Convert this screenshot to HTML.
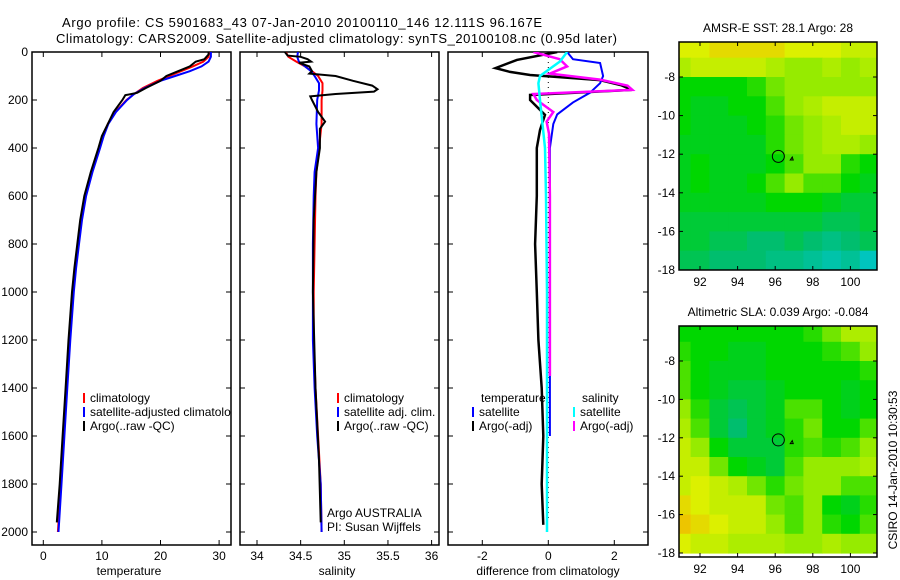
<!DOCTYPE html>
<html><head><meta charset="utf-8"><style>
html,body{margin:0;padding:0;background:#fff;}
svg{display:block;font-family:"Liberation Sans",sans-serif;}
text{font-size:12px;fill:#000;}
</style></head><body>
<svg id="fig" width="900" height="580" xmlns="http://www.w3.org/2000/svg">
<defs>
<clipPath id="c1"><rect x="32" y="52" width="199" height="493"/></clipPath>
<clipPath id="c2"><rect x="240" y="52" width="199" height="493"/></clipPath>
<clipPath id="c3"><rect x="448" y="52" width="200" height="493"/></clipPath>
<clipPath id="cm1"><rect x="679" y="42" width="198" height="228"/></clipPath>
<clipPath id="cm2"><rect x="679" y="326" width="198" height="231"/></clipPath>
</defs>
<text x="62" y="27" textLength="480" style="font-size:13px">Argo profile: CS 5901683_43 07-Jan-2010 20100110_146 12.111S 96.167E</text>
<text x="56" y="43" textLength="561" style="font-size:13px">Climatology: CARS2009. Satellite-adjusted climatology: synTS_20100108.nc (0.95d later)</text>
<g id="g1"></g>
<g id="g2"></g>
<g id="g3"></g>
<g id="gm1"></g>
<g id="gm2"></g>
<text transform="translate(897,470) rotate(-90)" text-anchor="middle">CSIRO 14-Jan-2010 10:30:53</text>
</svg>
<script>
// ---- data ----
const tClimDepth=[0,20,40,60,80,100,120,150,175,200,250,300,350,400,500,600,700,800,900,1000,1200,1400,1600,1800,2000];
const tClim=[28.3,28.2,27.3,25.5,23.5,21.5,19.5,17,15.5,14.2,12.3,11,10.2,9.6,8.3,7.2,6.5,6.0,5.5,5.1,4.5,4.0,3.5,3.0,2.5];
const tSat=[28.6,28.6,28.2,27,25,22.5,20,17.3,15.5,14.3,12.4,11.1,10.3,9.7,8.4,7.3,6.6,6.1,5.6,5.2,4.6,4.1,3.6,3.1,2.6];
const tArgoDepth=[0,10,30,40,60,80,100,120,150,170,180,200,250,300,350,400,500,600,700,800,900,1000,1200,1400,1600,1800,1960];
const tArgo=[28.2,28.2,27.5,26,25,23,21,20,17.5,16,14,13.5,12,11,10,9.4,8.1,7.0,6.3,5.8,5.3,4.9,4.3,3.8,3.3,2.8,2.3];
const sClimDepth=[0,20,40,60,80,100,130,160,200,300,400,500,600,800,1000,1200,1400,1600,1800,2000];
const sClim=[34.33,34.36,34.45,34.55,34.63,34.70,34.75,34.75,34.74,34.74,34.71,34.68,34.67,34.66,34.65,34.65,34.67,34.70,34.73,34.74];
const sSat=[34.47,34.46,34.48,34.55,34.62,34.66,34.71,34.71,34.69,34.68,34.70,34.66,34.65,34.64,34.64,34.64,34.66,34.69,34.73,34.74];
const sArgoDepth=[0,15,20,30,40,45,60,80,90,100,120,140,155,165,175,185,200,250,290,320,400,500,700,1000,1400,1700,1960];
const sArgo=[34.32,34.35,34.5,34.58,34.62,34.48,34.6,34.63,34.6,34.9,35.1,35.32,35.38,35.34,34.9,34.61,34.63,34.7,34.78,34.72,34.72,34.68,34.65,34.64,34.67,34.71,34.73];
const dTArgoDepth=[0,33,67,83,96,117,138,158,179,200,262,325,400,600,800,1000,1200,1400,1600,1800,1970];
const dTArgo=[0.27,-0.95,-1.6,-1.16,-0.55,1.57,2.2,2.53,-0.55,-0.55,-0.1,-0.25,-0.35,-0.35,-0.4,-0.35,-0.3,-0.2,-0.15,-0.2,-0.15];
const dTSatDepth=[0,30,46,100,130,170,210,260,300,400,800,1200,1600];
const dTSat=[0.57,0.75,1.57,1.66,1.57,1.26,0.75,0.27,0.15,0.05,0.05,0.05,0.05];
const dSArgoDepth=[0,30,60,90,115,140,158,175,200,250,290,340,600,1000,1350];
const dSArgo=[-0.45,0.35,0.57,0.05,1.57,2.4,2.55,-0.45,-0.35,0.15,-0.05,0.02,0.05,0.05,0.05];
const dSSatDepth=[0,40,70,100,130,200,400,600,1000,1400,1800,2000];
const dSSat=[0.57,0.35,0.05,-0.25,-0.3,-0.25,-0.1,-0.07,-0.04,-0.04,-0.04,-0.04];
const depthTicks=[0,200,400,600,800,1000,1200,1400,1600,1800,2000];
const tTicks=[0,10,20,30];
const sTicks=[34,34.5,35,35.5,36];
const sTickLabels=["34","34.5","35","35.5","36"];
const dTicks=[-2,0,2];
const mapLons=[91,92,93,94,95,96,97,98,99,100,101];
const mapLats=[-6.5,-7.5,-8.5,-9.5,-10.5,-11.5,-12.5,-13.5,-14.5,-15.5,-16.5,-17.5];
const lonTicks=[92,94,96,98,100];
const latTicks=[-8,-10,-12,-14,-16,-18];
const sstGrid=[
[0.85,0.85,0.9,0.9,0.9,0.9,0.85,0.85,0.85,0.8,0.8],
[0.75,0.8,0.8,0.8,0.8,0.75,0.7,0.7,0.75,0.7,0.75],
[0.5,0.5,0.5,0.5,0.55,0.65,0.7,0.7,0.7,0.7,0.7],
[0.5,0.45,0.45,0.5,0.5,0.6,0.7,0.75,0.8,0.8,0.8],
[0.5,0.45,0.45,0.45,0.5,0.55,0.65,0.7,0.75,0.8,0.8],
[0.45,0.45,0.45,0.45,0.45,0.55,0.65,0.7,0.75,0.75,0.7],
[0.45,0.5,0.45,0.45,0.45,0.5,0.6,0.7,0.7,0.55,0.5],
[0.45,0.5,0.45,0.45,0.5,0.6,0.7,0.6,0.6,0.5,0.45],
[0.45,0.45,0.45,0.45,0.45,0.5,0.5,0.5,0.45,0.4,0.4],
[0.4,0.4,0.4,0.4,0.4,0.4,0.4,0.4,0.35,0.35,0.4],
[0.4,0.4,0.35,0.35,0.3,0.3,0.35,0.3,0.25,0.3,0.35],
[0.35,0.35,0.3,0.3,0.3,0.25,0.25,0.2,0.15,0.2,0.1]];
const slaGrid=[
[0.5,0.5,0.5,0.5,0.5,0.5,0.5,0.55,0.65,0.75,0.75],
[0.55,0.5,0.5,0.45,0.45,0.5,0.5,0.5,0.55,0.6,0.7],
[0.6,0.5,0.45,0.45,0.45,0.5,0.5,0.5,0.5,0.5,0.55],
[0.6,0.5,0.45,0.4,0.4,0.45,0.5,0.5,0.5,0.45,0.5],
[0.7,0.55,0.4,0.35,0.4,0.45,0.6,0.6,0.5,0.45,0.5],
[0.75,0.6,0.4,0.3,0.4,0.45,0.55,0.65,0.5,0.5,0.6],
[0.8,0.7,0.5,0.4,0.4,0.4,0.55,0.6,0.55,0.6,0.7],
[0.8,0.8,0.65,0.5,0.45,0.4,0.6,0.7,0.7,0.7,0.75],
[0.8,0.85,0.8,0.75,0.65,0.55,0.65,0.7,0.7,0.6,0.6],
[0.9,0.85,0.8,0.8,0.8,0.65,0.6,0.7,0.5,0.45,0.55],
[0.95,0.9,0.85,0.8,0.8,0.7,0.6,0.7,0.55,0.5,0.6],
[0.85,0.8,0.8,0.75,0.75,0.75,0.7,0.7,0.75,0.7,0.7]];
const argoLon=96.167, argoLat=-12.111;

// ---- scales ----
const NS="http://www.w3.org/2000/svg";
const yD=d=>52+d*0.24;
const xT=t=>43.3+t*5.86;
const xS=s=>257+(s-34)*87.3;
const xDf=v=>548.3+v*33;
const xLon=l=>700+(l-92)*18.8;
const yLat1=l=>77+(-8-l)*19.3;
const yLat2=l=>361+(-8-l)*19.2;
function el(tag,at,parent){const e=document.createElementNS(NS,tag);for(const k in at)e.setAttribute(k,at[k]);parent.appendChild(e);return e;}
function txt(s,at,parent){const e=el('text',at,parent);e.textContent=s;return e;}

function frame(g,x0,x1,xticks,xf,xlabels,ylabel){
  const r=el('rect',{x:x0,y:52,width:x1-x0,height:493,fill:'none',stroke:'#000','stroke-width':1.5},g);
  
  
  depthTicks.forEach(d=>{
    const y=yD(d);
    el('line',{x1:x0,x2:x0+5,y1:y,y2:y,stroke:'#000'},g);
    el('line',{x1:x1-5,x2:x1,y1:y,y2:y,stroke:'#000'},g);
    if(ylabel){const t=txt(String(d),{x:x0-4,y:y+4,'text-anchor':'end'},g);
      
      }
  });
  xticks.forEach((v,i)=>{
    const x=xf(v);
    el('line',{x1:x,x2:x,y1:545,y2:540,stroke:'#000'},g);
    el('line',{x1:x,x2:x,y1:52,y2:57,stroke:'#000'},g);
    const t=txt(xlabels[i],{x:x,y:560,'text-anchor':'middle'},g);
    
    
  });
}
function line(g,ds,vs,xf,color,clip,name,w){
  const pts=ds.map((d,i)=>xf(vs[i]).toFixed(1)+','+yD(d).toFixed(1)).join(' ');
  const p=el('polyline',{points:pts,fill:'none',stroke:color,'stroke-width':w||2,'clip-path':'url(#'+clip+')'},g);
  
  
}
function legend(g,x,y,color,label,name){
  el('line',{x1:x,x2:x,y1:y-9,y2:y+1,stroke:color,'stroke-width':2},g);
  const t=txt(label,{x:x+6,y:y},g);
  
  
}

// panel 1
const g1=document.getElementById('g1');
frame(g1,32,231,tTicks,xT,tTicks.map(String),true);
line(g1,tClimDepth,tClim,xT,'#f00','c1','temperature-climatology-line');
line(g1,tClimDepth,tSat,xT,'#00f','c1','temperature-satellite-line');
line(g1,tArgoDepth,tArgo,xT,'#000','c1','temperature-argo-line');
const lg1=el('g',{'clip-path':'url(#c1)'},g1);
legend(lg1,84,402,'#f00','climatology','legend-climatology');
legend(lg1,84,416,'#00f','satellite-adjusted climatology','legend-satellite-adjusted');
legend(lg1,84,430,'#000','Argo(..raw -QC)','legend-argo-raw');
txt('temperature',{x:129,y:575,'text-anchor':'middle'},g1);

// panel 2
const g2=document.getElementById('g2');
frame(g2,240,439,sTicks,xS,sTickLabels,false);
line(g2,sClimDepth,sClim,xS,'#f00','c2','salinity-climatology-line');
line(g2,sClimDepth,sSat,xS,'#00f','c2','salinity-satellite-line');
line(g2,sArgoDepth,sArgo,xS,'#000','c2','salinity-argo-line');
legend(g2,338,402,'#f00','climatology','legend-climatology');
legend(g2,338,416,'#00f','satellite adj. clim.','legend-satellite-adj');
legend(g2,338,430,'#000','Argo(..raw -QC)','legend-argo-raw');
txt('Argo AUSTRALIA',{x:327,y:517},g2);
txt('PI: Susan Wijffels',{x:327,y:531},g2);
txt('salinity',{x:337,y:575,'text-anchor':'middle'},g2);

// panel 3
const g3=document.getElementById('g3');
frame(g3,448,648,dTicks,xDf,dTicks.map(String),false);
el('line',{x1:xDf(0),x2:xDf(0),y1:yD(0),y2:yD(1950),stroke:'#000','stroke-width':1,'stroke-dasharray':'1,4'},g3);
line(g3,dTArgoDepth,dTArgo,xDf,'#000','c3','diff-temp-argo-line',2.5);
line(g3,dTSatDepth,dTSat,xDf,'#00f','c3','diff-temp-satellite-line');
line(g3,dSArgoDepth,dSArgo,xDf,'#f0f','c3','diff-sal-argo-line',2.5);
line(g3,dSSatDepth,dSSat,xDf,'#0ff','c3','diff-sal-satellite-line',2.5);
txt('temperature',{x:481,y:402},g3);
legend(g3,473,416,'#00f','satellite','legend-temp-satellite');
legend(g3,473,430,'#000','Argo(-adj)','legend-temp-argo');
txt('salinity',{x:582,y:402},g3);
legend(g3,574,416,'#0ff','satellite','legend-sal-satellite');
legend(g3,574,430,'#f0f','Argo(-adj)','legend-sal-argo');
txt('difference from climatology',{x:548,y:575,'text-anchor':'middle'},g3);

// maps
function cmap(v){
  const stops=[[0,[0,200,230]],[0.3,[0,190,110]],[0.5,[0,215,0]],[0.7,[150,235,0]],[0.85,[220,240,0]],[1,[245,175,0]]];
  for(let i=1;i<stops.length;i++){if(v<=stops[i][0]){const a=stops[i-1],b=stops[i],f=(v-a[0])/(b[0]-a[0]);
    return 'rgb('+a[1].map((c,k)=>Math.round(c+(b[1][k]-c)*f)).join(',')+')';}}
  return 'rgb(245,175,0)';
}
function map(g,grid,yL,top,bot,clip,title){
  const cg=el('g',{'clip-path':'url(#'+clip+')'},g);
  mapLats.forEach((lat,r)=>mapLons.forEach((lon,c)=>{
    const x0=xLon(lon-0.5),x1=xLon(lon+0.5),y0=yL(lat+0.5),y1=yL(lat-0.5);
    const rc=el('rect',{x:x0,y:y0,width:x1-x0+0.6,height:y1-y0+0.6,fill:cmap(grid[r][c])},cg);
    
    
  }));
  el('circle',{cx:xLon(argoLon),cy:yL(argoLat),r:6,fill:'none',stroke:'#000','stroke-width':1},g);
  el('path',{d:'M'+xLon(96.8)+','+(yL(-12.2)+2)+' l3,0 l-1,-3 z',fill:'none',stroke:'#000'},g);
  el('rect',{x:679,y:top,width:198,height:bot-top,fill:'none',stroke:'#000','stroke-width':1.5},g);
  lonTicks.forEach(l=>{const x=xLon(l);
    el('line',{x1:x,x2:x,y1:top,y2:top+4,stroke:'#000'},g);
    el('line',{x1:x,x2:x,y1:bot,y2:bot-4,stroke:'#000'},g);
    const t=txt(String(l),{x:x,y:bot+16,'text-anchor':'middle'},g);
    
    });
  latTicks.forEach(l=>{const y=yL(l);
    el('line',{x1:679,x2:683,y1:y,y2:y,stroke:'#000'},g);
    el('line',{x1:873,x2:877,y1:y,y2:y,stroke:'#000'},g);
    const t=txt(String(l).replace('-','-'),{x:675,y:y+4,'text-anchor':'end'},g);
    
    });
  const t=txt(title,{x:778,y:top-10,'text-anchor':'middle'},g);
  
  
}
map(document.getElementById('gm1'),sstGrid,yLat1,42,270,'cm1','AMSR-E SST: 28.1 Argo: 28');
map(document.getElementById('gm2'),slaGrid,yLat2,326,557,'cm2','Altimetric SLA: 0.039 Argo: -0.084');
</script>
</body></html>
